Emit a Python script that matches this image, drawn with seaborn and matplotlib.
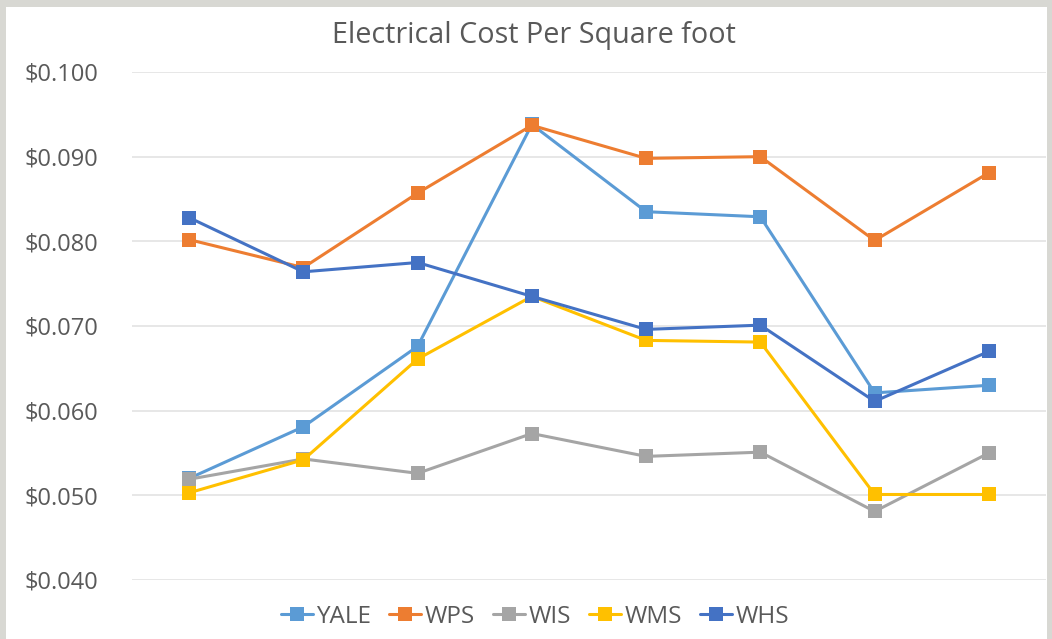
import matplotlib
matplotlib.use("Agg")
import matplotlib.pyplot as plt
import matplotlib.patches as mpatches
from matplotlib.ticker import FuncFormatter, MultipleLocator
import seaborn as sns
import pandas as pd

# ---- data ----
periods = [1, 2, 3, 4, 5, 6, 7, 8]
series_names = ["YALE", "WPS", "WIS", "WMS", "WHS"]
yale = [0.0520, 0.0581, 0.0676, 0.0938, 0.0835, 0.0829, 0.0621, 0.0630]
wps = [0.0802, 0.0769, 0.0857, 0.0937, 0.0898, 0.0900, 0.0801, 0.0881]
wis = [0.0519, 0.0543, 0.0526, 0.0573, 0.0546, 0.0551, 0.0481, 0.0550]
wms = [0.0503, 0.0542, 0.0661, 0.0735, 0.0683, 0.0681, 0.0501, 0.0501]
whs = [0.0828, 0.0764, 0.0775, 0.0735, 0.0696, 0.0701, 0.0611, 0.0670]
colors = ["#5B9BD5", "#ED7D31", "#A5A5A5", "#FFC000", "#4472C4"]

rows = []
for name, vals in zip(series_names, [yale, wps, wis, wms, whs]):
    for p, v in zip(periods, vals):
        rows.append({"period": p, "cost": v, "series": name})
df = pd.DataFrame(rows)

sns.set_theme(style="white")
plt.rcParams["font.family"] = ["Open Sans", "DejaVu Sans"]

W, H = 1052, 639
fig = plt.figure(figsize=(W / 100, H / 100), dpi=100, facecolor="#d8d8d3")
# white chart panel
fig.patches.append(mpatches.Rectangle((6 / W, 0), (1047 - 6) / W, (H - 7) / H,
                                      transform=fig.transFigure, facecolor="white",
                                      edgecolor="none", zorder=-10))

ax = fig.add_axes([132 / W, 1 - 580 / H, (1046 - 132) / W, (580 - 72) / H])
ax.set_zorder(1)
ax.set_facecolor("none")

sns.lineplot(data=df, x="period", y="cost", hue="series", hue_order=series_names,
             palette=colors, marker="s", markersize=9.5, markeredgewidth=0,
             linewidth=2.2, dashes=False, ax=ax, legend=True)

ax.set_xlim(0.5, 8.5)
ax.set_ylim(0.040, 0.100)
ax.yaxis.set_major_locator(MultipleLocator(0.010))
ax.yaxis.set_major_formatter(FuncFormatter(lambda v, p: f"${v:.3f}"))
ax.grid(axis="y", color="#e3e3e3", linewidth=1.2)
ax.set_axisbelow(True)
ax.set_xticks([])
ax.set_xlabel("")
ax.set_ylabel("")
for s in ax.spines.values():
    s.set_visible(False)
ax.tick_params(axis="y", length=0, pad=24, labelsize=17, labelcolor="#595959")

fig.text(534 / W, 1 - 35 / H, "Electrical Cost Per Square foot", ha="center", va="center",
         fontsize=20.7, color="#595959")

handles, labels = ax.get_legend_handles_labels()
ax.get_legend().remove()
fig.legend(handles, labels, loc="center", bbox_to_anchor=(535 / W, 1 - 617 / H), ncol=5,
           frameon=False, fontsize=17.5, labelcolor="#595959", handlelength=1.3,
           handletextpad=0.15, columnspacing=0.75)

fig.savefig("out.png", dpi=100, facecolor=fig.get_facecolor())
